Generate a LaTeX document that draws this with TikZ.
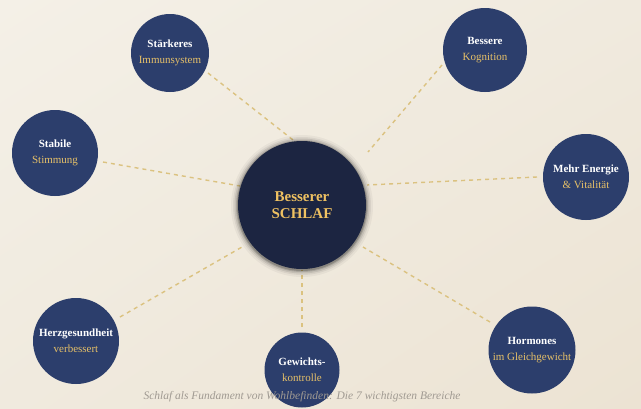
\documentclass[tikz,border=0pt]{standalone}
\usepackage{fontspec}
\setmainfont{Liberation Serif}
\usetikzlibrary{shadings}
\definecolor{satfill}{RGB}{44,62,108}
\definecolor{corefill}{RGB}{28,37,65}
\definecolor{goldtxt}{RGB}{230,192,104}
\definecolor{coretxt}{RGB}{238,193,98}
\definecolor{dashc}{RGB}{219,194,128}
\definecolor{capc}{RGB}{160,154,146}
\definecolor{bgA}{RGB}{244,240,231}
\definecolor{bgB}{RGB}{236,227,211}
\definecolor{bgM}{RGB}{240,234,222}
\begin{document}
\begin{tikzpicture}[x=1pt,y=-1pt,
  satnode/.style={circle, fill=satfill, inner sep=0pt, align=center,
    font=\fontsize{11}{16}\selectfont, text=white},
  link/.style={draw=dashc, line width=1.4pt, dash pattern=on 4pt off 4pt}]
\useasboundingbox (0,0) rectangle (641,408);
\shade[upper left=bgA, upper right=bgM, lower left=bgM, lower right=bgB] (0,0) rectangle (641,408);

% connector end points
\coordinate (a1) at (208,73);  \coordinate (b1) at (302,147);
\coordinate (a2) at (442,65);  \coordinate (b2) at (368,152);
\coordinate (a3) at (537,177); \coordinate (b3) at (367,185);
\coordinate (a4) at (103,162); \coordinate (b4) at (240,186);
\coordinate (a5) at (120,317); \coordinate (b5) at (242,247);
\coordinate (a6) at (302,327); \coordinate (b6) at (302,270);
\coordinate (a7) at (490,322); \coordinate (b7) at (363,247);
\foreach \i in {1,...,7} \draw[link] (a\i) -- (b\i);

% satellites
\node[satnode, minimum size=78pt] (imm) at (170,53) {\textbf{Stärkeres}\\{\color{goldtxt}Immunsystem}};
\node[satnode, minimum size=84pt] (kog) at (485,50) {\textbf{Bessere}\\{\color{goldtxt}Kognition}};
\node[satnode, minimum size=86pt] (stim) at (55,153) {\textbf{Stabile}\\{\color{goldtxt}Stimmung}};
\node[satnode, minimum size=86pt] (ener) at (586,177) {\textbf{Mehr Energie}\\{\color{goldtxt}\& Vitalität}};
\node[satnode, minimum size=86pt] (herz) at (76,341) {\textbf{Herzgesundheit}\\{\color{goldtxt}verbessert}};
\node[satnode, minimum size=87pt] (horm) at (532,350) {\textbf{Hormones}\\{\color{goldtxt}im Gleichgewicht}};
\node[satnode, minimum size=75pt] (gew) at (302,370) {\textbf{Gewichts-}\\{\color{goldtxt}kontrolle}};

% central node with soft shadow
\foreach \r/\o in {71/0.04, 69/0.06, 67.5/0.09, 66/0.13, 65/0.18}
  \fill[black, opacity=\o] (302,206) circle (\r pt);
\node[circle, fill=corefill, minimum size=128pt, inner sep=0pt, align=center,
  font=\fontsize{15}{17.5}\selectfont\bfseries, text=coretxt] (core) at (302,205) {Besserer\\SCHLAF};

% caption
\node[font=\fontsize{11.5}{13}\selectfont\itshape, text=capc, inner sep=0pt, anchor=base] (cap) at (302,399)
  {Schlaf als Fundament von Wohlbefinden: Die 7 wichtigsten Bereiche};
\end{tikzpicture}
\end{document}
